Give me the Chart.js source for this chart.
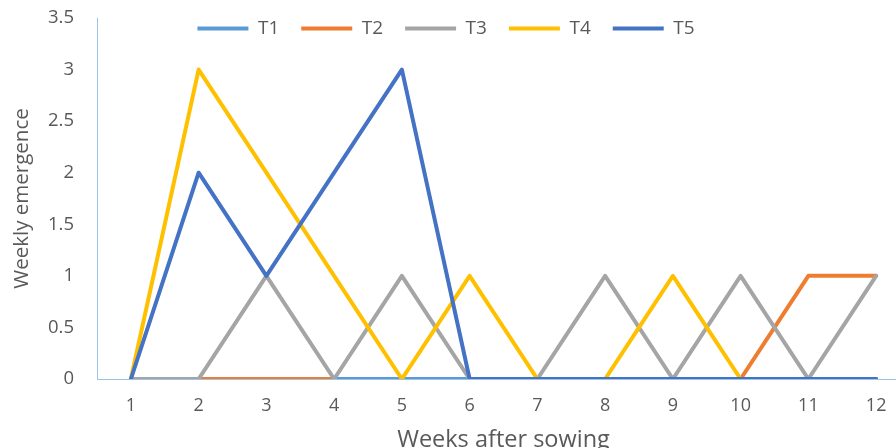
<!DOCTYPE html>
<html>
<head>
<meta charset="utf-8">
<script src="https://cdn.jsdelivr.net/npm/chart.js@4"></script>
<style>
    body { margin: 0; background: #fff; overflow: hidden; }
    #frame { width: 896px; height: 448px; overflow: hidden; position: relative; }
    #box { width: 910px; height: 480px; position: relative; }
</style>
</head>
<body>
<div id="frame">
    <div id="box"><canvas id="chart"></canvas></div>
</div>
<script>
const weeks = [1, 2, 3, 4, 5, 6, 7, 8, 9, 10, 11, 12];
const t1 = [0, 0, 0, 0, 0, 0, 0, 0, 0, 0, 0, 0];
const t2 = [0, 0, 0, 0, null, null, null, null, null, 0, 1, 1];
const t3 = [0, 0, 1, 0, 1, 0, 0, 1, 0, 1, 0, 1];
const t4 = [0, 3, 2, 1, 0, 1, 0, 0, 1, 0, 0, 0];
const t5 = [0, 2, 1, 2, 3, 0, 0, 0, 0, 0, 0, 0];
const yTicks = [0, 0.5, 1, 1.5, 2, 2.5, 3, 3.5];

const textColor = '#595959';
const fontFamily = '"Open Sans", sans-serif';

function series(label, values, color, order) {
    return {
        label: label,
        data: values.map((v, i) => ({ x: weeks[i], y: v })),
        borderColor: color,
        backgroundColor: color,
        borderWidth: 4,
        borderCapStyle: 'round',
        borderJoinStyle: 'round',
        pointRadius: 0,
        tension: 0,
        spanGaps: false,
        order: order
    };
}

// legend sits on top of the plot instead of pushing it down,
// and is centred on the visible part of the picture
const legendOverlap = {
    id: 'legendOverlap',
    beforeInit(chart) {
        const legend = chart.legend;
        const fit = legend.fit;
        const draw = legend.draw;
        legend.fit = function () {
            fit.call(this);
            this.height = 18;
        };
        legend.draw = function () {
            const { top, right, bottom } = this;
            this.top = -3;
            this.right = 892;
            this.bottom = 60;
            draw.call(this);
            this.top = top;
            this.right = right;
            this.bottom = bottom;
        };
    }
};

const ctx = document.getElementById('chart').getContext('2d');
new Chart(ctx, {
    type: 'line',
    data: {
        datasets: [
            series('T1', t1, '#5B9BD5', 5),
            series('T2', t2, '#ED7D31', 4),
            series('T3', t3, '#A5A5A5', 3),
            series('T4', t4, '#FFC000', 2),
            series('T5', t5, '#4472C4', 1)
        ]
    },
    options: {
        responsive: true,
        maintainAspectRatio: false,
        animation: false,
        layout: { padding: 0 },
        plugins: {
            legend: {
                position: 'top',
                labels: {
                    usePointStyle: true,
                    pointStyle: 'line',
                    pointStyleWidth: 51,
                    padding: 22,
                    color: textColor,
                    font: { family: fontFamily, size: 19 },
                    sort: (a, b) => a.datasetIndex - b.datasetIndex
                }
            },
            tooltip: { enabled: false }
        },
        scales: {
            x: {
                type: 'linear',
                min: 0.5,
                max: 12.5,
                afterBuildTicks: (scale) => { scale.ticks = weeks.map(v => ({ value: v })); },
                afterFit: (scale) => {
                    scale.height = 101;
                    scale.paddingLeft = 0;
                    scale.paddingRight = 0;
                },
                grid: { display: false },
                border: { display: true, color: '#9DC3E6', width: 1 },
                ticks: {
                    color: textColor,
                    font: { family: fontFamily, size: 18 },
                    padding: 8,
                    maxRotation: 0,
                    autoSkip: false
                },
                title: {
                    display: true,
                    text: 'Weeks after sowing',
                    color: textColor,
                    font: { family: fontFamily, size: 23.5 },
                    padding: { top: 0, bottom: 26 }
                }
            },
            y: {
                min: 0,
                max: 3.5,
                afterBuildTicks: (scale) => { scale.ticks = yTicks.map(v => ({ value: v })); },
                afterFit: (scale) => {
                    scale.width = 97;
                    scale.paddingTop = 10;
                    scale.paddingBottom = 10;
                },
                grid: { display: false },
                border: { display: true, color: '#9DC3E6', width: 1 },
                ticks: {
                    color: textColor,
                    font: { family: fontFamily, size: 18.5 },
                    padding: 15,
                    callback: (v) => String(v)
                },
                title: {
                    display: true,
                    text: 'Weekly emergence',
                    color: textColor,
                    font: { family: fontFamily, size: 20.5 },
                    padding: { top: 10, bottom: 0 }
                }
            }
        }
    },
    plugins: [legendOverlap]
});
</script>
</body>
</html>
